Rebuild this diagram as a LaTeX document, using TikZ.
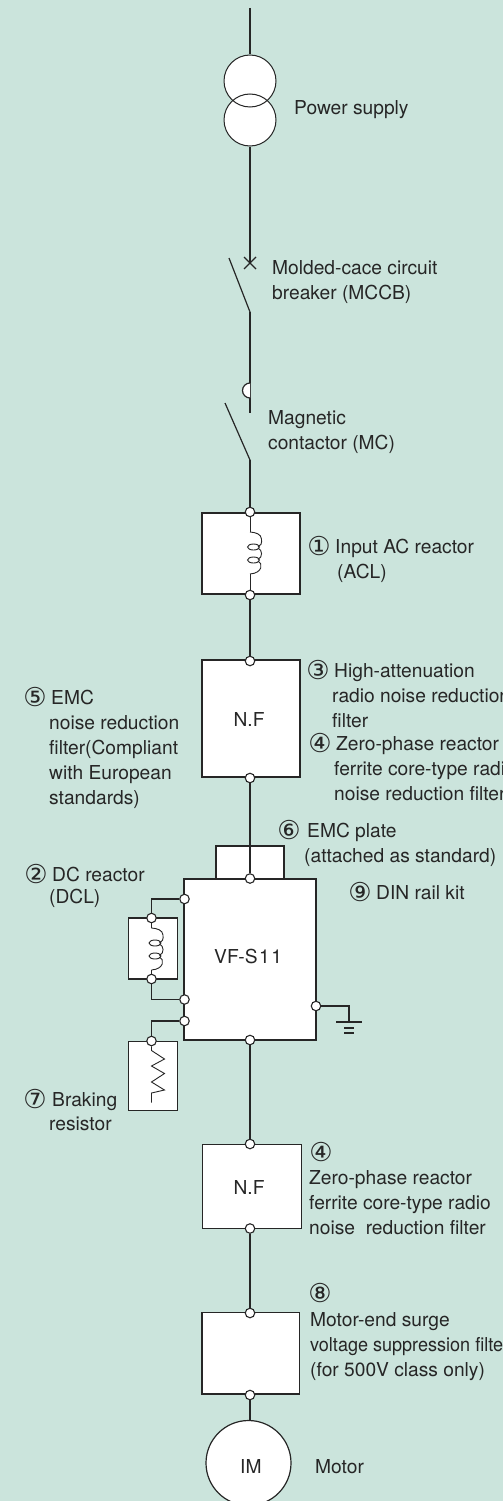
\documentclass[tikz,border=0pt]{standalone}
\usepackage{fontspec}
\setmainfont{TeX Gyre Heros}
\newfontfamily\circfont{DejaVu Sans}
\newfontface\narrowFace{TeX Gyre Heros}[FakeStretch=0.94]
\definecolor{panelGreen}{HTML}{CBE4DC}
\definecolor{inkGray}{HTML}{262626}
\newcommand{\reactorCoil}[2]{
\draw[coilwire] (#1, #2) .. controls ({#1+6}, {#2+0.5}) and ({#1+11}, {#2+2}) .. ({#1+11.5}, {#2+7}) .. controls ({#1+12}, {#2+11}) and ({#1+11}, {#2+14}) .. ({#1+8}, {#2+15});
\draw[coilwire] ({#1+3.5}, {#2+15}) ellipse (6 and 3);
\draw[coilwire] ({#1+8}, {#2+16}) .. controls ({#1+12.5}, {#2+18}) and ({#1+13}, {#2+25}) .. ({#1+8}, {#2+27.5});
\draw[coilwire] ({#1+3.5}, {#2+28}) ellipse (6 and 3);
\draw[coilwire] ({#1+8}, {#2+29}) .. controls ({#1+13}, {#2+31}) and ({#1+13}, {#2+41}) .. (#1, {#2+42});
}
\tikzset{
wire/.style={draw=inkGray, line width=1.2pt},
coilwire/.style={draw=inkGray, line width=0.9pt},
term/.style={circle, draw=inkGray, fill=white, line width=1.1pt, minimum size=9.5pt, inner sep=0pt},
unitbox/.style={rectangle, draw=inkGray, fill=white, line width=1.2pt, inner sep=0pt},
lbl/.style={inner sep=0pt, anchor=base west, align=left, text=inkGray, font=\fontsize{19.2}{25}\selectfont},
numlbl/.style={inner sep=0pt, anchor=center, text=inkGray, font=\circfont\fontsize{26}{26}\selectfont},
}

\begin{document}
\begin{tikzpicture}[x=1pt, y=-1pt]
\useasboundingbox (0, 0) rectangle (503, 1501);
\clip (0, 0) rectangle (503, 1501);
\fill[panelGreen] (0, 0) rectangle (503, 1501);

\fill[white] (250, 81) circle (26);
\fill[white] (250, 120) circle (26);
\node (pwrTop) [circle, draw=inkGray, line width=1pt, minimum size=52pt, inner sep=0pt] at (250, 81) {};
\node (pwrBot) [circle, draw=inkGray, line width=1pt, minimum size=52pt, inner sep=0pt] at (250, 120) {};
\coordinate (mains) at (250, 8);
\coordinate (mccbTop) at (250, 263);
\coordinate (mccbBot) at (250, 312);
\coordinate (mccbBlade) at (229, 258);
\coordinate (mcTop) at (250, 413);
\coordinate (mcBot) at (250, 460);
\coordinate (mcBlade) at (225, 403);

\draw[wire] (mains) -- (pwrTop);
\draw[wire] (pwrBot) -- (mccbTop);
\draw[wire] (mccbTop) ++(-6, -6) -- ++(12, 12);
\draw[wire] (mccbTop) ++(-6, 6) -- ++(12, -12);
\draw[wire] (mccbBlade) -- (mccbBot);
\draw[wire] (mccbBot) -- (mcTop);
\draw[wire, fill=white] (250, 398) arc (90:270:7.5);
\draw[wire] (mcBlade) -- (mcBot);

% input reactor
\node (aclBox) [unitbox, minimum width=98pt, minimum height=81pt] at (251, 553.5) {};
\node (aclIn) [term] at (250, 512) {};
\node (aclOut) [term] at (250, 595) {};
\draw[wire] (mcBot) -- (aclIn);
\draw[coilwire] (aclIn) -- (250, 532);
\reactorCoil{250}{532}
\draw[coilwire] (250, 574) -- (aclOut);

\node (nfBox) [unitbox, minimum width=98pt, minimum height=117pt] at (251, 718.5) {};
\node (nfIn) [term] at (250, 661) {};
\node (nfOut) [term] at (250, 778) {};
\node (nfText) [lbl] at (233.5, 726) {N.F};
\draw[wire] (aclOut) -- (nfIn);

% inverter
\node (plateBox) [unitbox, minimum width=68pt, minimum height=33pt] at (250, 862.5) {};
\node (vfBox) [unitbox, minimum width=132pt, minimum height=161pt] at (250, 959.5) {};
\node (vfIn) [term] at (250, 878.5) {};
\node (vfDcA) [term] at (184.5, 899) {};
\node (vfDcB) [term] at (184.5, 999.5) {};
\node (vfBr) [term] at (184.5, 1021) {};
\node (vfGnd) [term] at (316, 1006) {};
\node (vfOut) [term] at (250, 1040) {};
\node (vfText) [lbl] at (214, 963) {VF-S\kern1.5pt 1\kern1.5pt 1};
\draw[wire] (nfOut) -- (vfIn);

\node (dclBox) [unitbox, minimum width=49.5pt, minimum height=61pt] at (153, 948.5) {};
\node (dclIn) [term] at (151.5, 918) {};
\node (dclOut) [term] at (151.5, 979) {};
\draw[wire] (vfDcA) -| (dclIn);
\draw[wire] (vfDcB) -| (dclOut);
\draw[coilwire] (dclIn) -- (151.5, 928);
\reactorCoil{151.5}{928}
\draw[coilwire] (151.5, 970) -- (dclOut);

\node (brBox) [unitbox, minimum width=49.5pt, minimum height=68.5pt] at (153, 1076) {};
\node (brIn) [term] at (151.5, 1041) {};
\draw[wire] (vfBr) -| (brIn);
\draw[coilwire] (brIn) -- (151.5, 1050.5) -- (164.5, 1059) -- (151.5, 1066) -- (164.5, 1073.5) -- (151.5, 1082) -- (164.5, 1090) -- (151.5, 1093) -- (151.5, 1102.5);

\coordinate (gndTop) at (349, 1022);
\draw[wire] (vfGnd) -| (gndTop);
\draw[wire] (gndTop) ++(-13, 0) -- ++(26, 0);
\draw[wire] (gndTop) ++(-5, 6) -- ++(10, 0);
\draw[wire] (gndTop) ++(-5, 11) -- ++(10, 0);

% motor side
\node (nf2Box) [unitbox, minimum width=99pt, minimum height=84pt] at (252, 1186.5) {};
\node (nf2In) [term] at (250, 1144) {};
\node (nf2Out) [term] at (250, 1228.5) {};
\node (nf2Text) [lbl] at (233.5, 1194) {N.F};
\draw[wire] (vfOut) -- (nf2In);

\node (surgeBox) [unitbox, minimum width=97.5pt, minimum height=81.5pt] at (250.75, 1353.25) {};
\node (surgeIn) [term] at (250, 1313) {};
\node (surgeOut) [term] at (250, 1395) {};
\draw[wire] (nf2Out) -- (surgeIn);

\node (motor) [circle, draw=inkGray, fill=white, line width=1.2pt, minimum size=85pt, inner sep=0pt] at (248.5, 1463) {};
\node (motorText) [lbl] at (240, 1473) {IM};
\draw[wire] (surgeOut) -- (250, 1421);

% labels
\node (lblPower) [lbl] at (294, 114) {Power supply};
\node (lblMccb) [lbl] at (272, 299) {Molded-cace circuit\\breaker (MCCB)};
\node (lblMc) [lbl] at (268, 449) {Magnetic\\contactor (MC)};
\node (numOne) [numlbl] at (319, 546) {①};
\node (lblAcl) [lbl] at (335, 553) {Input AC reactor};
\node (lblAclB) [lbl] at (337, 578) {(ACL)};
\node (numThree) [numlbl] at (318, 670) {③};
\node (lblHigh) [lbl] at (334, 677) {High-attenuation};
\node (lblHighB) [lbl] at (332, 727) {radio noise reduction\\filter};
\node (numFour) [numlbl] at (320, 743) {④};
\node (lblZero) [lbl] at (336, 750) {Zero-phase reactor};
\node (lblZeroB) [lbl] at (334, 800) {ferrite core-type radio\\noise reduction filter};
\node (numFive) [numlbl] at (35, 697) {⑤};
\node (lblEmc) [lbl] at (51, 704) {EMC};
\node (lblEmcB) [lbl] at (49, 804) {noise reduction\\filter(Compliant\\with European\\standards)};
\node (numSix) [numlbl] at (289, 830) {⑥};
\node (lblPlate) [lbl] at (307, 837) {EMC plate};
\node (lblPlateB) [lbl] at (304, 862) {(attached as standard)};
\node (numNine) [numlbl] at (360, 892) {⑨};
\node (lblDin) [lbl] at (376, 899) {DIN rail kit};
\node (numTwo) [numlbl] at (36, 874) {②};
\node (lblDcl) [lbl] at (52, 881) {DC reactor};
\node (lblDclB) [lbl] at (49, 903) {(DCL)};
\node (numSeven) [numlbl] at (35, 1099) {⑦};
\node (lblBrake) [lbl] at (52, 1106) {Braking};
\node (lblBrakeB) [lbl] at (49, 1130) {resistor};
\node (numFourB) [numlbl] at (321, 1152) {④};
\node (lblZeroC) [lbl] at (309, 1234) {Zero-phase reactor\\ferrite core-type radio\\noise\ \ reduction filter};
\node (numEight) [numlbl] at (320, 1293) {⑧};
\node (lblSurge) [lbl] at (310, 1376) {Motor-end surge\\{\narrowFace voltage suppression filter}\\(for 500V class only)};
\node (lblMotor) [lbl] at (315, 1473) {Motor};
\end{tikzpicture}
\end{document}
